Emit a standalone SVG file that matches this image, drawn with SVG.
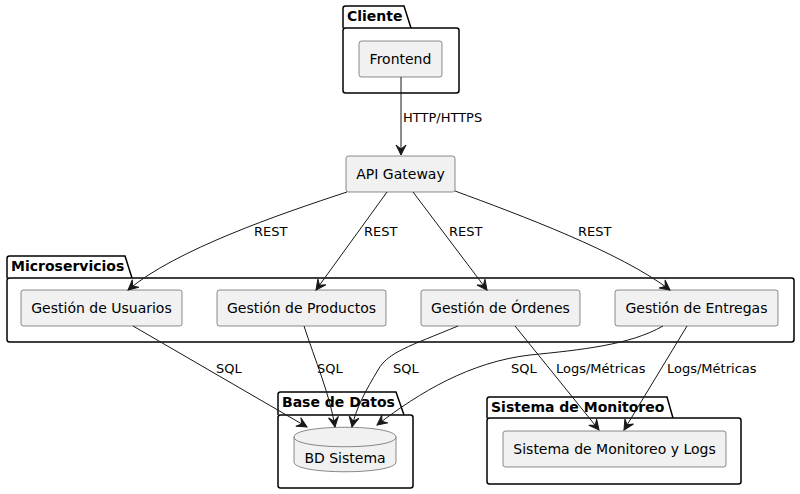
<svg xmlns="http://www.w3.org/2000/svg" width="800" height="494" viewBox="0 0 800 494">
<style>
.pkg{fill:none;stroke:#000;stroke-width:1.5}
.pt{font-family:"DejaVu Sans",sans-serif;font-size:14px;font-weight:bold;fill:#000}
.node{fill:#F1F1F1;stroke:#181818;stroke-width:0.5}
.nt{font-family:"DejaVu Sans",sans-serif;font-size:14px;fill:#000;text-anchor:middle}
.edge{fill:none;stroke:#181818;stroke-width:1}
.lbl{font-family:"DejaVu Sans",sans-serif;font-size:13px;fill:#000}
</style>
<defs>
<marker id="arr" markerUnits="userSpaceOnUse" markerWidth="12" markerHeight="12" viewBox="0 0 12 12" refX="11" refY="6" orient="auto">
<path d="M1,1 L11,6 L1,11 L5,6 Z" fill="#181818" stroke="#181818" stroke-width="1"/>
</marker>
</defs>
<rect width="800" height="494" fill="#fff"/>

<g id="pkg-cliente">
<path class="pkg" d="M343,28 L343,8.5 Q343,6 345.5,6 L404,6 L411,28"/>
<rect class="pkg" x="343" y="28" width="116" height="65" rx="2.5"/>
<text class="pt" x="347" y="21">Cliente</text>
</g>
<g id="pkg-micro">
<path class="pkg" d="M7,278 L7,258.5 Q7,256 9.5,256 L125,256 L132,278"/>
<rect class="pkg" x="7" y="278" width="787" height="64" rx="2.5"/>
<text class="pt" x="11" y="271">Microservicios</text>
</g>
<g id="pkg-bd">
<path class="pkg" d="M278,415 L278,394.5 Q278,392 280.5,392 L396,392 L404,415"/>
<rect class="pkg" x="278" y="415" width="135" height="73" rx="2.5"/>
<text class="pt" x="282" y="407">Base de Datos</text>
</g>
<g id="pkg-monitor">
<path class="pkg" d="M487,418 L487,399.5 Q487,397 489.5,397 L667,397 L673,418"/>
<rect class="pkg" x="487" y="418" width="254" height="66" rx="2.5"/>
<text class="pt" x="491" y="412">Sistema de Monitoreo</text>
</g>

<g id="frontend">
<rect class="node" x="359" y="41" width="83" height="36" rx="2.5"/>
<text class="nt" x="400.5" y="64">Frontend</text>
</g>
<g id="api">
<rect class="node" x="346" y="156" width="109" height="36" rx="2.5"/>
<text class="nt" x="400.5" y="179">API Gateway</text>
</g>
<g id="usuarios">
<rect class="node" x="21" y="290" width="161" height="36" rx="2.5"/>
<text class="nt" x="101.5" y="313">Gestión de Usuarios</text>
</g>
<g id="productos">
<rect class="node" x="217" y="290" width="169" height="36" rx="2.5"/>
<text class="nt" x="301.5" y="313">Gestión de Productos</text>
</g>
<g id="ordenes">
<rect class="node" x="421" y="290" width="159" height="36" rx="2.5"/>
<text class="nt" x="500.5" y="313">Gestión de Órdenes</text>
</g>
<g id="entregas">
<rect class="node" x="615" y="290" width="163" height="36" rx="2.5"/>
<text class="nt" x="696.5" y="313">Gestión de Entregas</text>
</g>
<g id="bdsistema">
<path class="node" d="M294,437 C294,424 396,424 396,437 L396,462 C396,475 294,475 294,462 Z"/>
<path class="node" fill="none" d="M294,437 C294,450 396,450 396,437"/>
<text class="nt" x="345" y="463">BD Sistema</text>
</g>
<g id="monitor">
<rect class="node" x="503" y="431" width="223" height="36" rx="2.5"/>
<text class="nt" x="614.5" y="454">Sistema de Monitoreo y Logs</text>
</g>

<g id="connectors">
<path class="edge" marker-end="url(#arr)" d="M401,77 L401,155"/>
<text class="lbl" x="403" y="122">HTTP/HTTPS</text>
<path class="edge" marker-end="url(#arr)" d="M347,192 C280,214 175,250 128,290"/>
<text class="lbl" x="254" y="236">REST</text>
<path class="edge" marker-end="url(#arr)" d="M387,192 L316,290"/>
<text class="lbl" x="364" y="236">REST</text>
<path class="edge" marker-end="url(#arr)" d="M413,192 L487,290"/>
<text class="lbl" x="449" y="236">REST</text>
<path class="edge" marker-end="url(#arr)" d="M455,191 C520,215 620,252 670,290"/>
<text class="lbl" x="578" y="236">REST</text>
<path class="edge" marker-end="url(#arr)" d="M133,326 L307,427"/>
<text class="lbl" x="216" y="373">SQL</text>
<path class="edge" marker-end="url(#arr)" d="M304,326 C315,360 330,395 335,427"/>
<text class="lbl" x="317" y="373">SQL</text>
<path class="edge" marker-end="url(#arr)" d="M458,326 C410,346 388,352 378,370 C366,390 356,408 352,427"/>
<text class="lbl" x="393" y="373">SQL</text>
<path class="edge" marker-end="url(#arr)" d="M663,326 C630,345 580,350 530,355 C470,362 420,392 377,425"/>
<text class="lbl" x="511" y="373">SQL</text>
<path class="edge" marker-end="url(#arr)" d="M515,326 L599,430"/>
<text class="lbl" x="556" y="373">Logs/Métricas</text>
<path class="edge" marker-end="url(#arr)" d="M687,326 L624,430"/>
<text class="lbl" x="667" y="373">Logs/Métricas</text>
</g>
</svg>
